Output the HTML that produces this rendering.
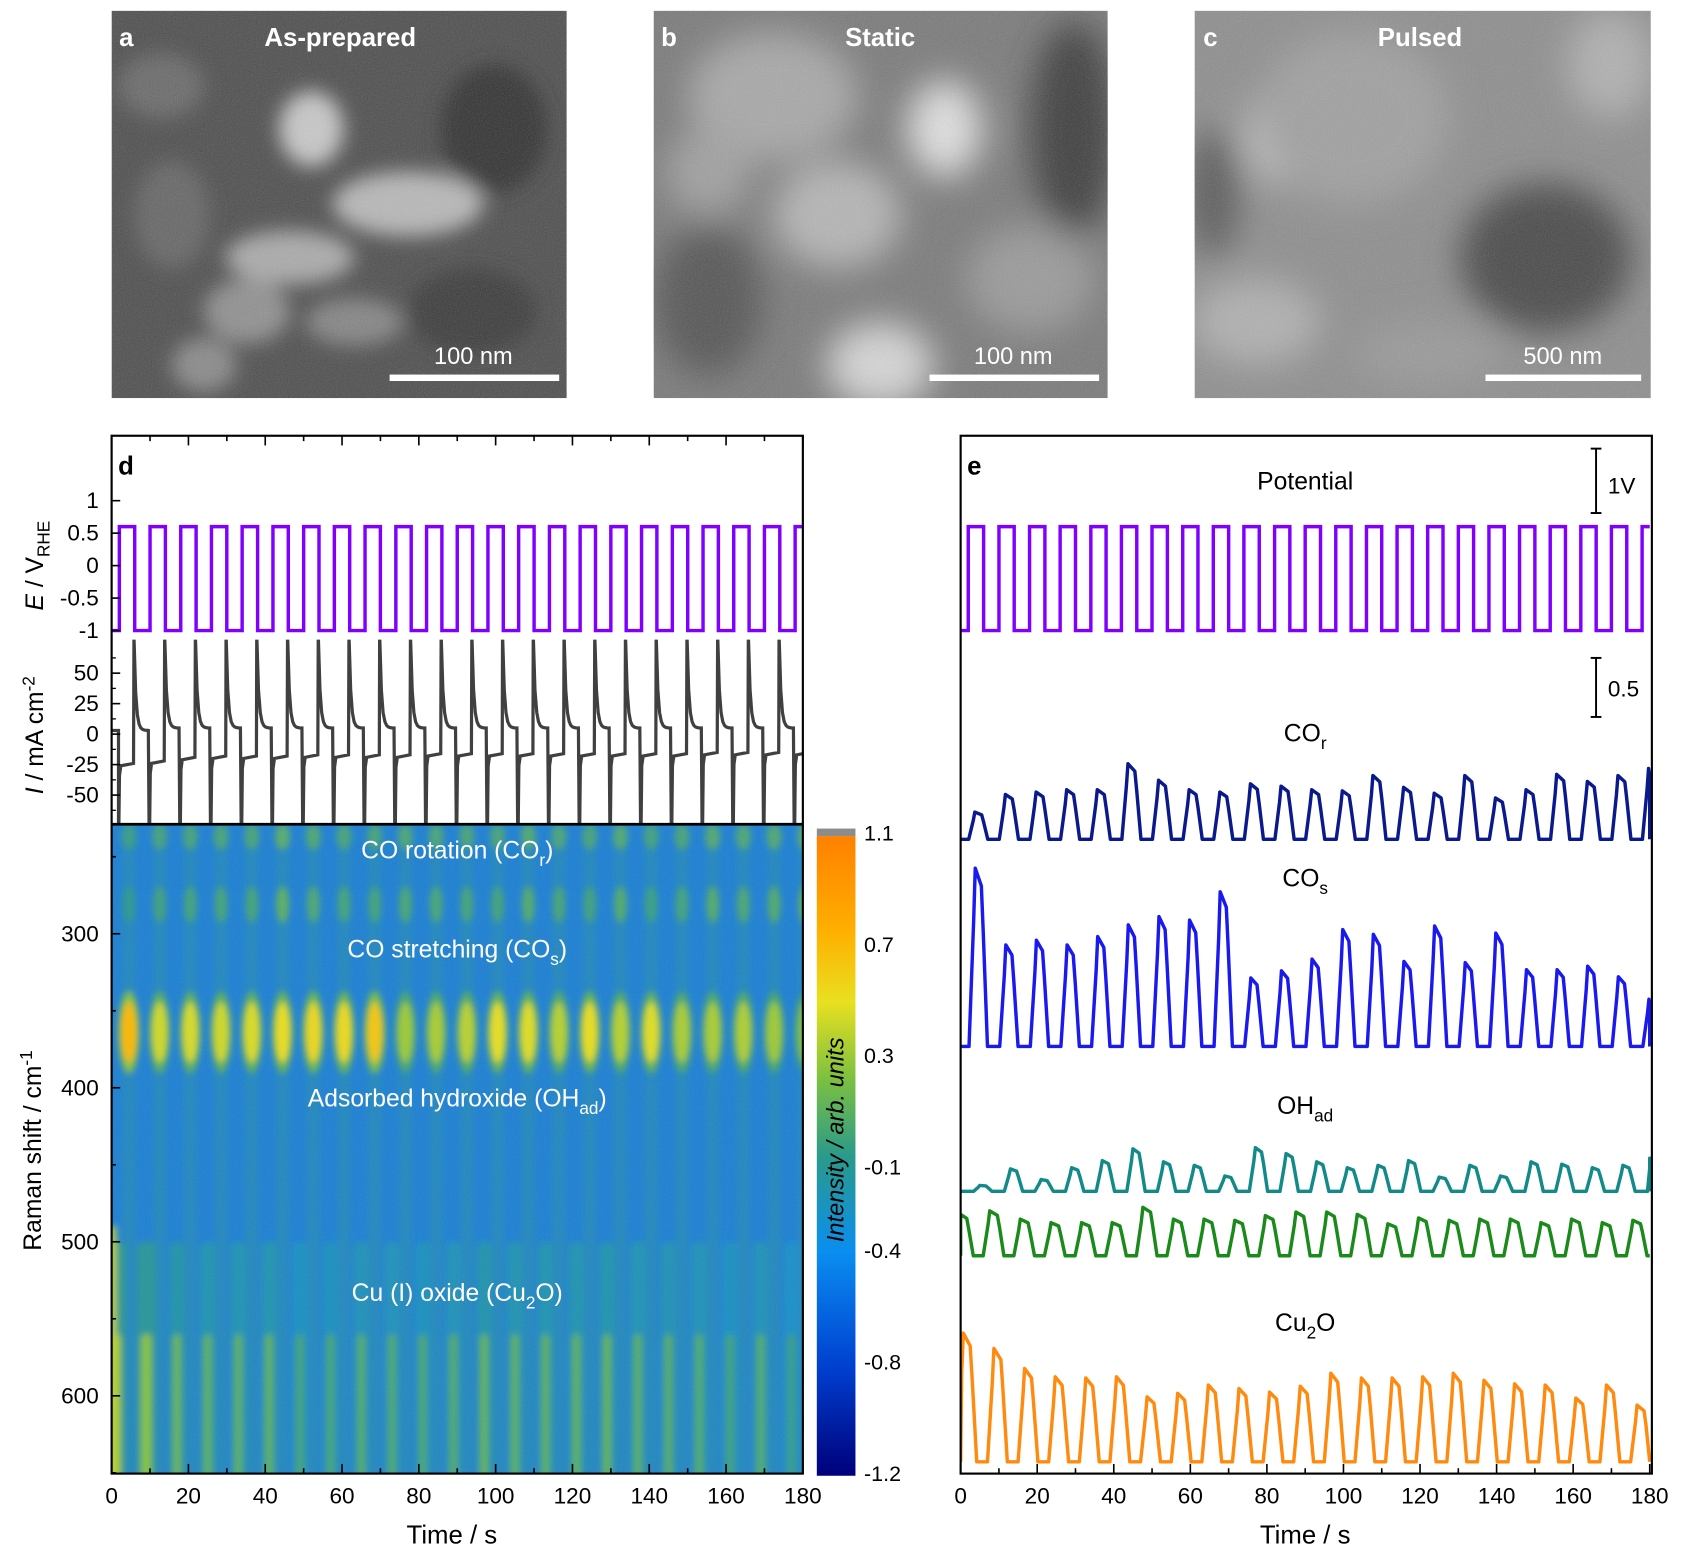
<!DOCTYPE html>
<html><head><meta charset="utf-8"><style>
html,body{margin:0;padding:0;background:#fff}
svg{display:block}
text{font-family:"Liberation Sans",Arial,sans-serif}
</style></head><body>
<svg id="fig" width="1683" height="1560" viewBox="0 0 1568 1453.5" preserveAspectRatio="none" xmlns="http://www.w3.org/2000/svg">
<defs>
<filter id="blur8" x="-50%" y="-50%" width="200%" height="200%"><feGaussianBlur stdDeviation="9"/></filter>
<filter id="blur14" x="-50%" y="-50%" width="200%" height="200%"><feGaussianBlur stdDeviation="16"/></filter>
<filter id="blur3" x="-50%" y="-50%" width="200%" height="200%"><feGaussianBlur stdDeviation="3"/></filter>
<filter id="noise"><feTurbulence type="fractalNoise" baseFrequency="0.9" numOctaves="1" seed="3"/><feColorMatrix type="saturate" values="0"/><feComponentTransfer><feFuncA type="linear" slope="0.25"/></feComponentTransfer></filter>
<clipPath id="clipA"><rect x="104" y="10" width="424" height="361"/></clipPath>
<clipPath id="clipB"><rect x="609" y="10" width="423" height="361"/></clipPath>
<clipPath id="clipC"><rect x="1113" y="10" width="425" height="361"/></clipPath>
<clipPath id="clipE"><rect x="104" y="406" width="644" height="190"/></clipPath>
<clipPath id="clipI"><rect x="104" y="596" width="644" height="172"/></clipPath>
<clipPath id="clipH"><rect x="104" y="768" width="644" height="605"/></clipPath>
<clipPath id="clipR"><rect x="895" y="406" width="644" height="967"/></clipPath>
<linearGradient id="cbar" x1="0" y1="1" x2="0" y2="0">
<stop offset="0" stop-color="#00007a"/><stop offset="0.17" stop-color="#0040d0"/><stop offset="0.35" stop-color="#0a8ef0"/><stop offset="0.5" stop-color="#2a9a8a"/><stop offset="0.62" stop-color="#7cc040"/><stop offset="0.74" stop-color="#e8e020"/><stop offset="0.85" stop-color="#ffb000"/><stop offset="1" stop-color="#ff8000"/>
</linearGradient>
</defs>

<!-- SEM panels -->
<g clip-path="url(#clipA)">
<rect x="104" y="10" width="424" height="361" fill="#4e4e4e"/>
<g filter="url(#blur8)">
<ellipse cx="150" cy="80" rx="40" ry="30" fill="#6a6a6a"/><ellipse cx="290" cy="120" rx="30" ry="35" fill="#c8c8c8"/><ellipse cx="380" cy="190" rx="70" ry="30" fill="#b8b8b8"/><ellipse cx="270" cy="240" rx="60" ry="25" fill="#aaaaaa"/><ellipse cx="230" cy="290" rx="40" ry="30" fill="#909090"/><ellipse cx="460" cy="120" rx="50" ry="60" fill="#333"/><ellipse cx="440" cy="290" rx="60" ry="40" fill="#3a3a3a"/><ellipse cx="160" cy="200" rx="35" ry="50" fill="#666"/><ellipse cx="330" cy="300" rx="45" ry="22" fill="#858585"/><ellipse cx="190" cy="340" rx="30" ry="25" fill="#8a8a8a"/>
</g>
<rect x="104" y="10" width="424" height="361" filter="url(#noise)"/>
</g>
<g clip-path="url(#clipB)">
<rect x="609" y="10" width="423" height="361" fill="#7a7a7a"/>
<g filter="url(#blur14)">
<ellipse cx="720" cy="90" rx="80" ry="60" fill="#a8a8a8"/><ellipse cx="880" cy="120" rx="35" ry="45" fill="#e0e0e0"/><ellipse cx="780" cy="200" rx="60" ry="50" fill="#b5b5b5"/><ellipse cx="1000" cy="120" rx="40" ry="100" fill="#3c3c3c"/><ellipse cx="960" cy="260" rx="60" ry="50" fill="#9a9a9a"/><ellipse cx="660" cy="280" rx="50" ry="70" fill="#555"/><ellipse cx="820" cy="340" rx="50" ry="40" fill="#d5d5d5"/><ellipse cx="660" cy="160" rx="40" ry="40" fill="#a0a0a0"/>
</g>
<rect x="609" y="10" width="423" height="361" filter="url(#noise)"/>
</g>
<g clip-path="url(#clipC)">
<rect x="1113" y="10" width="425" height="361" fill="#8e8e8e"/>
<g filter="url(#blur14)">
<ellipse cx="1195" cy="125" rx="35" ry="45" fill="#cfcfcf"/><ellipse cx="1260" cy="110" rx="90" ry="80" fill="#a0a0a0"/><ellipse cx="1440" cy="240" rx="80" ry="70" fill="#4a4a4a"/><ellipse cx="1170" cy="300" rx="60" ry="40" fill="#b0b0b0"/><ellipse cx="1330" cy="330" rx="70" ry="30" fill="#9a9a9a"/><ellipse cx="1500" cy="60" rx="40" ry="50" fill="#b0b0b0"/><ellipse cx="1130" cy="180" rx="25" ry="60" fill="#5a5a5a"/>
</g>
<rect x="1113" y="10" width="425" height="361" filter="url(#noise)"/>
</g>
<g fill="#fff" font-weight="bold" font-size="24">
<text x="111" y="43">a</text>
<text x="317" y="43" text-anchor="middle">As-prepared</text>
<text x="616" y="43">b</text>
<text x="820" y="43" text-anchor="middle">Static</text>
<text x="1121" y="43">c</text>
<text x="1323" y="43" text-anchor="middle">Pulsed</text>
</g>
<g fill="#fff" font-size="22">
<rect x="363" y="349" width="158" height="6"/>
<text x="441" y="339" text-anchor="middle">100 nm</text>
<rect x="866" y="349" width="158" height="6"/>
<text x="944" y="339" text-anchor="middle">100 nm</text>
<rect x="1384" y="349" width="145" height="6"/>
<text x="1456" y="339" text-anchor="middle">500 nm</text>
</g>

<g id="dplot"></g>
<g id="eplot"></g>
</svg>
<script>
// ---------- data ----------
const period = 8;            // s, pulse period
const highStart = 2;         // s, first anodic step
const potHigh = 0.6, potLow = -1.0;
const currSpikeUp = [80,82,82,82,82,82,82,82,82,82,82,82,82,82,82,82,82,82,82,82,82,82,82];
const currAnodicEnd = [3,5,5,5,5,5,5,5,5,5,5,5,5,5,5,5,5,5,5,5,5,5,5];
const currPlateau = [-26,-24,-21,-20,-20,-20,-19,-19,-19,-19,-18,-18,-18,-18,-18,-18,-18,-18,-18,-17,-17,-17,-17];
const xTicks = [0,20,40,60,80,100,120,140,160,180];
const eTicks = [1,0.5,0,-0.5,-1];
const eTickLabels = ['1','0.5','0','-0.5','-1'];
const iTicks = [50,25,0,-25,-50];
const ramanTicks = [300,400,500,600];
const cbarTicks = [1.1,0.7,0.3,-0.1,-0.4,-0.8,-1.2];
// Raman band intensities per cycle (panel e), arb. units
const coR = [0.23,0.38,0.40,0.42,0.42,0.64,0.50,0.42,0.40,0.47,0.45,0.42,0.41,0.54,0.44,0.39,0.54,0.35,0.42,0.55,0.49,0.54,0.60];
const coS = [1.51,0.86,0.90,0.86,0.93,1.03,1.10,1.07,1.31,0.58,0.64,0.74,0.99,0.95,0.72,1.02,0.71,0.96,0.65,0.65,0.68,0.59,0.40];
const ohAd = [0.05,0.19,0.10,0.20,0.26,0.36,0.25,0.22,0.13,0.37,0.32,0.25,0.20,0.22,0.26,0.12,0.22,0.13,0.25,0.23,0.20,0.22,0.28];
const ohAd2 = [0.35,0.38,0.31,0.28,0.28,0.28,0.41,0.31,0.31,0.30,0.34,0.37,0.37,0.35,0.27,0.32,0.30,0.31,0.31,0.28,0.31,0.28,0.30];
const cu2o = [1.09,0.96,0.79,0.72,0.71,0.72,0.55,0.58,0.65,0.62,0.59,0.64,0.75,0.71,0.71,0.72,0.75,0.69,0.66,0.65,0.54,0.65,0.48];

// ---------- helpers ----------
const NS='http://www.w3.org/2000/svg';
function mk(tag, parent, attrs){const e=document.createElementNS(NS,tag);for(const k in attrs)e.setAttribute(k,attrs[k]);parent.appendChild(e);return e;}
const D=document.getElementById('dplot'), E=document.getElementById('eplot');
const xd = t => 104 + t*644/180;
const xe = t => 895 + t*642/180;
const yE = v => 527 - v*60.5;
const yI = v => 684 - v*1.136;
const yR = r => 870 + (r-300)*1.435;
const UNIT = 110; // px per arb unit in panel e

function potPts(X, Y){
  let pts=[[X(0),Y(potLow)]];
  for(let k=0;;k++){
    const a=highStart+k*period, b=a+period/2;
    if(a>180)break;
    pts.push([X(a),Y(potLow)],[X(a),Y(potHigh)]);
    if(b>180){pts.push([X(180),Y(potHigh)]);break;}
    pts.push([X(b),Y(potHigh)],[X(b),Y(potLow)]);
  }
  const last=pts[pts.length-1]; if(last[0]<X(180)) pts.push([X(180),last[1]]);
  return pts.map(p=>p[0].toFixed(1)+','+p[1].toFixed(1)).join(' ');
}

// ---------- panel d ----------
const heat = mk('g',D,{'clip-path':'url(#clipH)'});


mk('rect',heat,{x:104,y:768,width:644,height:605,fill:'#1d80d4'});
function cmap(v){
  const st=[[-1.2,[0,0,122]],[-0.8,[0,64,208]],[-0.4,[10,142,240]],[-0.1,[42,154,138]],[0.2,[124,192,64]],[0.5,[232,224,32]],[0.8,[255,176,0]],[1.1,[255,128,0]]];
  v=Math.max(-1.2,Math.min(1.1,v));
  for(let i=0;i<st.length-1;i++){if(v<=st[i+1][0]){const f=(v-st[i][0])/(st[i+1][0]-st[i][0]);const c=st[i][1].map((a,j)=>Math.round(a+f*(st[i+1][1][j]-a)));return 'rgb('+c.join(',')+')';}}
  return 'rgb(255,128,0)';
}
const hb = mk('g',heat,{filter:'url(#blur3)'});
for(let k=0;k<coS.length;k++){
  const tc=4.5+k*period; if(tc>182)break;
  const col=mk('rect',hb,{x:xd(tc)-6,y:768,width:12,height:605,fill:'#2a9a8a',opacity:0.3});
  
  
  const r1=mk('ellipse',hb,{cx:xd(tc),cy:yR(237),rx:7,ry:12,fill:cmap(-0.1+coR[k]*0.4),opacity:0.7});
  
  
  const r2=mk('ellipse',hb,{cx:xd(tc),cy:yR(281),rx:6,ry:17,fill:cmap(-0.2+coR[k]*0.5),opacity:0.85});
  
  
  const r3o=mk('ellipse',hb,{cx:xd(tc),cy:yR(364),rx:10,ry:38,fill:cmap(-0.15+coS[k]*0.25)});
  
  
  const r3=mk('ellipse',hb,{cx:xd(tc),cy:yR(364),rx:7,ry:28,fill:cmap(0.0+coS[k]*0.5)});
  
  
}
for(let k=0;k<cu2o.length;k++){
  const tc=1+k*period; if(tc>182)break;
  const w = k<2?9:7;
  const c1=mk('rect',hb,{x:xd(tc)-w,y:yR(500),width:2*w,height:yR(660)-yR(500),fill:cmap(-0.45+cu2o[k]*0.35),rx:6,opacity:0.85});
  
  
  const c2=mk('rect',hb,{x:xd(tc)-w*0.55,y:yR(560),width:1.1*w,height:yR(660)-yR(560),fill:cmap(-0.35+cu2o[k]*0.6),rx:4});
  
  
}
const edge=mk('rect',hb,{x:102,y:yR(490),width:6,height:yR(660)-yR(490),fill:cmap(0.4)});


mk('rect',heat,{x:104,y:768,width:644,height:605,filter:'url(#noise)',opacity:0.5});
[['CO rotation (CO','r',')',800],['CO stretching (CO','s',')',892],['Adsorbed hydroxide (OH','ad',')',1031],['Cu (I) oxide (Cu','2','O)',1212]].forEach((l,i)=>{
  const t=mk('text',D,{x:426,y:l[3],'text-anchor':'middle',fill:'#fff','font-size':23});
  
  
  t.innerHTML=l[0]+'<tspan font-size="16" dy="7">'+l[1]+'</tspan><tspan dy="-7">'+l[2]+'</tspan>';
});

// potential line (d)
const gE=mk('g',D,{'clip-path':'url(#clipE)'});
const pd=mk('polyline',gE,{points:potPts(xd,yE),fill:'none',stroke:'#7f00ff','stroke-width':3.2});


// current line
const gI=mk('g',D,{'clip-path':'url(#clipI)'});
let cp=[[xd(0),yI(3)],[xd(1.8),yI(3)]];
for(let k=0;k<currPlateau.length;k++){
  const a=highStart+k*period-0.2, b=a+period/2;
  if(a>181)break;
  cp.push([xd(a),yI(-100)],[xd(a+0.25),yI(currPlateau[k]-8)],[xd(a+0.6),yI(currPlateau[k])],[xd(b-0.1),yI(currPlateau[k]+2)]);
  cp.push([xd(b),yI(currSpikeUp[k])]);
  for(let s=1;s<=8;s++){const tt=b+s*0.45;cp.push([xd(tt),yI(currAnodicEnd[k]+(currSpikeUp[k]-currAnodicEnd[k])*Math.exp(-s*0.9))]);}
  cp.push([xd(b+period/2-0.25),yI(currAnodicEnd[k])]);
}
const ci=mk('polyline',gI,{points:cp.map(p=>p[0].toFixed(1)+','+p[1].toFixed(1)).join(' '),fill:'none',stroke:'#404040','stroke-width':3});


// frame d
const fd=mk('rect',D,{x:104,y:406,width:644,height:967,fill:'none',stroke:'#000','stroke-width':2});


mk('line',D,{x1:104,y1:768,x2:748,y2:768,stroke:'#000','stroke-width':2.5});
const ld=mk('text',D,{x:110,y:442,'font-size':24,'font-weight':'bold'});ld.textContent='d';


for(let t=0;t<=180;t+=10){
  const L=t%20===0?9:5;
  mk('line',D,{x1:xd(t),y1:406,x2:xd(t),y2:406+L,stroke:'#000','stroke-width':1.5});
  mk('line',D,{x1:xd(t),y1:1373,x2:xd(t),y2:1373-L,stroke:'#000','stroke-width':1.5});
}
xTicks.forEach(t=>{const tx=mk('text',D,{x:xd(t),y:1401,'text-anchor':'middle','font-size':21});tx.textContent=t;
  
  });
eTicks.forEach((v,i)=>{mk('line',D,{x1:104,y1:yE(v),x2:112,y2:yE(v),stroke:'#000','stroke-width':1.5});
  const tx=mk('text',D,{x:92,y:yE(v)+7,'text-anchor':'end','font-size':21});tx.textContent=eTickLabels[i];
  
  });
iTicks.forEach(v=>{mk('line',D,{x1:104,y1:yI(v),x2:112,y2:yI(v),stroke:'#000','stroke-width':1.5});
  const tx=mk('text',D,{x:92,y:yI(v)+7,'text-anchor':'end','font-size':21});tx.textContent=v;
  
  });
for(let v=-62.5;v<=62.5;v+=25) mk('line',D,{x1:104,y1:yI(v),x2:108,y2:yI(v),stroke:'#000','stroke-width':1.2});
for(let r=250;r<=650;r+=50){mk('line',D,{x1:104,y1:yR(r),x2:r%100===0?112:108,y2:yR(r),stroke:'#000','stroke-width':1.5});}
ramanTicks.forEach(r=>{const tx=mk('text',D,{x:92,y:yR(r)+7,'text-anchor':'end','font-size':21});tx.textContent=r;
  
  });
let at=mk('text',D,{transform:'translate(40,527) rotate(-90)','text-anchor':'middle','font-size':23});
at.innerHTML='<tspan font-style="italic">E</tspan> / V<tspan font-size="16" dy="6">RHE</tspan>';


at=mk('text',D,{transform:'translate(40,685) rotate(-90)','text-anchor':'middle','font-size':23});
at.innerHTML='<tspan font-style="italic">I</tspan> / mA cm<tspan font-size="16" dy="-8">-2</tspan>';


at=mk('text',D,{transform:'translate(38,1072) rotate(-90)','text-anchor':'middle','font-size':23});
at.innerHTML='Raman shift / cm<tspan font-size="16" dy="-8">-1</tspan>';


at=mk('text',D,{x:421,y:1438,'text-anchor':'middle','font-size':24});at.textContent='Time / s';


// colorbar
const cb=mk('rect',D,{x:761,y:779,width:36,height:596,fill:'url(#cbar)'});


mk('rect',D,{x:761,y:772,width:36,height:7,fill:'#8c8c8c'});
const cY=v=>1373-(v+1.2)*(1373-776)/2.3;
cbarTicks.forEach(v=>{const tx=mk('text',D,{x:805,y:cY(v)+7,'font-size':20});tx.textContent=v;
  
  });
at=mk('text',D,{transform:'translate(786,1062) rotate(-90)','text-anchor':'middle','font-size':22,'font-style':'italic'});
at.textContent='Intensity / arb. units';



// ---------- panel e ----------
const gR=mk('g',E,{'clip-path':'url(#clipR)'});
const pe=mk('polyline',gR,{points:potPts(xe,yE),fill:'none',stroke:'#7f00ff','stroke-width':3.2});


function trace(arr, phase, base, hp, ramp, color, name){
  let pts=[[xe(0),base]];
  for(let k=0;k<arr.length;k++){
    const a=arr[k];
    const c=phase+k*period;
    const y=base-a*UNIT;
    pts.push([xe(c-hp-ramp),base],[xe(c-hp-ramp*0.25),y+a*UNIT*0.3],[xe(c-hp),y],[xe(c+hp),y+a*UNIT*0.1],[xe(c+hp+ramp*0.3),y+a*UNIT*0.35],[xe(c+hp+ramp),base]);
  }
  pts.push([xe(180),base]);
  pts=pts.map(p=>[Math.max(xe(0),Math.min(xe(180),p[0])),p[1]]);
  const pl=mk('polyline',gR,{points:pts.map(p=>p[0].toFixed(1)+','+p[1].toFixed(1)).join(' '),fill:'none',stroke:color,'stroke-width':3.2,'stroke-linejoin':'round'});
  
  
}
trace(coR,4.6,782,0.9,1.6,'#0a1a8c','co-rotation-line');
trace(coS,4.6,975,0.8,1.6,'#1a1aee','co-stretch-line');
trace(ohAd,5.8,1110,0.8,1.6,'#138a8a','oh-ad-line');
trace(ohAd2,0.6,1170,1.0,1.7,'#1a8a1a','oh-ad-2-line');
trace(cu2o,1.6,1362,0.9,1.7,'#ff8a10','cu2o-line');
const fe=mk('rect',E,{x:895,y:406,width:644,height:967,fill:'none',stroke:'#000','stroke-width':2});


for(let t=0;t<=180;t+=10){mk('line',E,{x1:xe(t),y1:1373,x2:xe(t),y2:1373-(t%20===0?9:5),stroke:'#000','stroke-width':1.5});}
xTicks.forEach(t=>{const tx=mk('text',E,{x:xe(t),y:1401,'text-anchor':'middle','font-size':21});tx.textContent=t;
  
  });
at=mk('text',E,{x:1216,y:1438,'text-anchor':'middle','font-size':24});at.textContent='Time / s';


at=mk('text',E,{x:901,y:442,'font-size':24,'font-weight':'bold'});at.textContent='e';


[['Potential','','',456],['CO','r','',691],['CO','s','',826],['OH','ad','',1038],['Cu','2','O',1240]].forEach((l,i)=>{
  const t=mk('text',E,{x:1216,y:l[3],'text-anchor':'middle','font-size':23});
  t.innerHTML=l[0]+(l[1]?'<tspan font-size="16" dy="7">'+l[1]+'</tspan>':'')+(l[2]?'<tspan dy="-7">'+l[2]+'</tspan>':'');
  
  
});
[[418,478,'1V',460],[613,668,'0.5',649]].forEach((s,i)=>{
  const g=mk('g',E,{});
  
  
  mk('line',g,{x1:1487,y1:s[0],x2:1487,y2:s[1],stroke:'#000','stroke-width':1.8});
  mk('line',g,{x1:1482,y1:s[0],x2:1492,y2:s[0],stroke:'#000','stroke-width':1.8});
  mk('line',g,{x1:1482,y1:s[1],x2:1492,y2:s[1],stroke:'#000','stroke-width':1.8});
  const t=mk('text',g,{x:1498,y:s[3],'font-size':21});t.textContent=s[2];
});
</script>
</body></html>
